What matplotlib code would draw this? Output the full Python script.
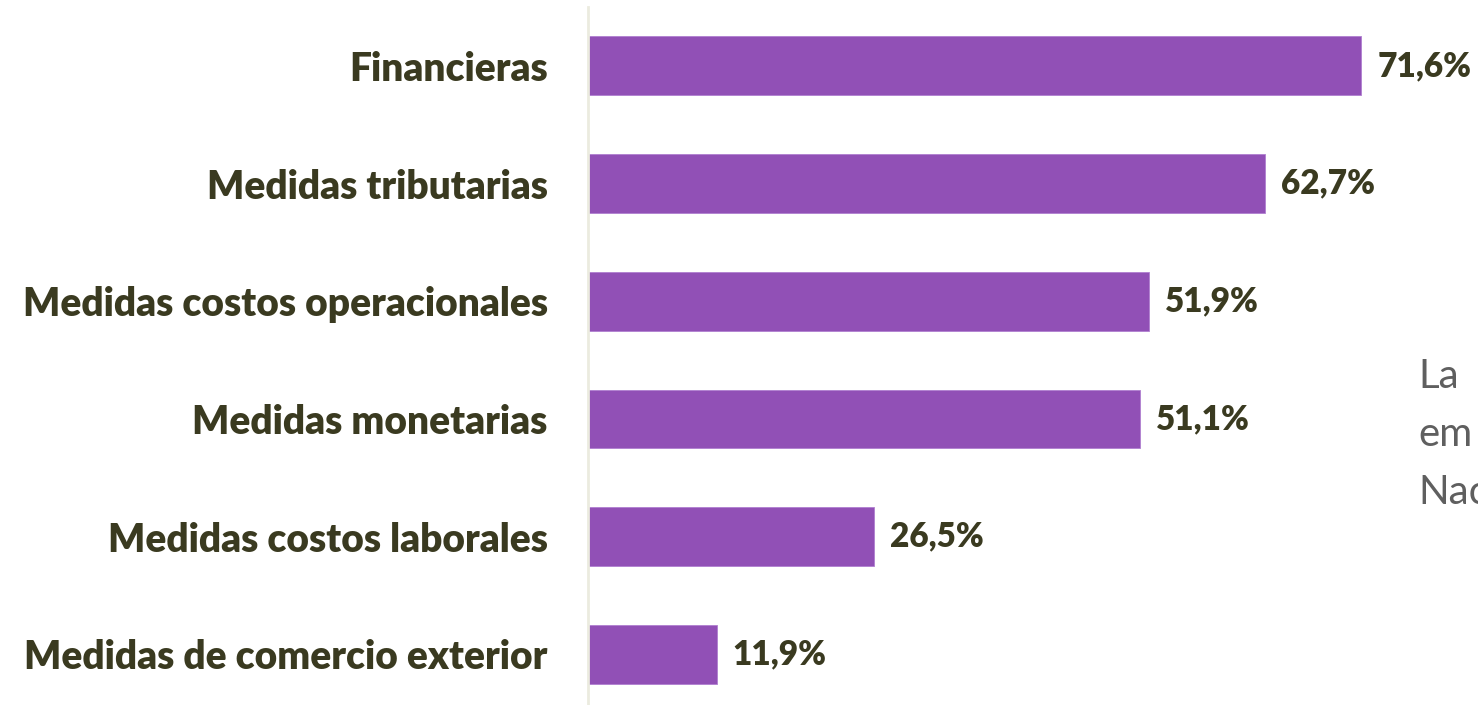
import matplotlib
matplotlib.use("Agg")
import matplotlib.pyplot as plt

categories = ["Financieras", "Medidas tributarias", "Medidas costos operacionales",
              "Medidas monetarias", "Medidas costos laborales", "Medidas de comercio exterior"]
values = [71.6, 62.7, 51.9, 51.1, 26.5, 11.9]
side_text = ["La", "em", "Nac"]

bar_color = "#9150b6"
text_color = "#3a3a20"

fig = plt.figure(figsize=(14.78, 7.05), dpi=100)
ax = fig.add_axes([588 / 1478, 0, (1478 - 588) / 1478, 698 / 705])

ypos = list(range(len(categories)))
ax.barh(ypos, values, height=0.5, color=bar_color, edgecolor="#b07fd0", linewidth=0.6)
ax.set_xlim(0, 82.4)
ax.set_ylim(5.43, -0.5)

for y, v in zip(ypos, values):
    ax.text(v + 1.5, y, f"{v:.1f}%".replace(".", ","), va="center", ha="left",
            fontsize=24, fontweight="heavy", family="Lato", color=text_color)

ax.set_yticks(ypos)
ax.set_yticklabels(categories, fontsize=28, fontweight="heavy", family="Lato", color=text_color)
ax.tick_params(axis="y", length=0, pad=29)
ax.set_xticks([])
for s in ["top", "right", "bottom"]:
    ax.spines[s].set_visible(False)
ax.spines["left"].set_color("#ebebdf")
ax.spines["left"].set_linewidth(2)

# grey text cut off at the right edge, as in the reference
for i, t in enumerate(side_text):
    fig.text(1418 / 1478, 1 - (377 + 58 * i) / 705, t, va="center", ha="left",
             fontsize=29, family="Lato", color="#5f5f5f")

fig.savefig("out.png", dpi=100)
